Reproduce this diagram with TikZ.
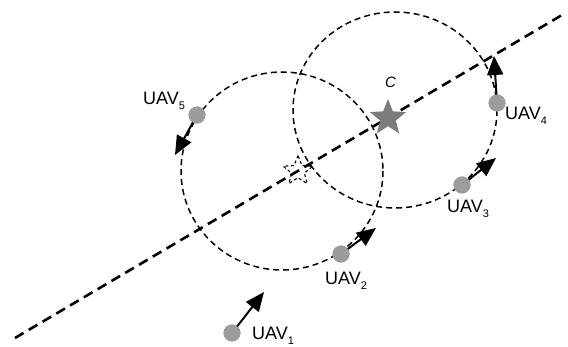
\documentclass[tikz,border=0pt]{standalone}
\usepackage{fontspec}
\setmainfont{Liberation Sans}
\usetikzlibrary{shapes.geometric,arrows.meta}
\definecolor{dotgray}{HTML}{9C9C9C}
\definecolor{stargray}{HTML}{7C7C7C}
\newcommand{\usub}[1]{\raisebox{-4.5pt}{\fontsize{11}{11}\selectfont #1}}
\begin{document}
\begin{tikzpicture}[x=1pt,y=-1pt,
  uav/.style={circle,fill=dotgray,inner sep=0pt,minimum size=17pt},
  lbl/.style={font=\fontsize{18}{18}\selectfont,inner sep=0pt,anchor=base west},
  mv/.style={line width=2pt,-{Triangle[length=19pt,width=16pt]}},
  track/.style={line width=2.6pt,dash pattern=on 10pt off 6pt},
  orbit/.style={line width=1.5pt,dash pattern=on 6pt off 4pt}]
\useasboundingbox (0,0) rectangle (568,347);
% orbits and track
\draw[orbit] (282,171) ellipse [x radius=101, y radius=99];
\draw[orbit] (395,110) ellipse [x radius=102, y radius=98];
\coordinate (la) at (15,338);
\coordinate (lb) at (562,15);
\draw[track] (la) -- (lb);
% ghost star
\node[star,star points=5,star point ratio=2.3,draw,line width=1.1pt,dash pattern=on 3pt off 2.5pt,minimum size=31pt,inner sep=0pt] (gs) at (298,171) {};
% target star
\node[star,star points=5,star point ratio=2.3,fill=stargray,minimum size=38pt,inner sep=0pt] (c) at (388,118) {};
\node[lbl,font=\fontsize{15}{15}\selectfont\itshape] (cl) at (385,88) {C};
% UAVs
\node[uav] (u1) at (232,333) {};
\node[uav] (u2) at (341,254) {};
\node[uav] (u3) at (462,185) {};
\node[uav] (u4) at (497,103) {};
\node[uav] (u5) at (197,115) {};
\coordinate (t1) at (264,292);
\coordinate (t2) at (376,228);
\coordinate (t3) at (496,158);
\coordinate (t4) at (494,56);
\coordinate (t5) at (175,155);
\draw[mv] (u1.center) -- (t1);
\draw[mv] (u2.center) -- (t2);
\draw[mv] (u3.center) -- (t3);
\draw[mv] (u4.center) -- (t4);
\draw[mv] (u5.center) -- (t5);
\node[uav] at (u1) {};
\node[uav] at (u2) {};
\node[uav] at (u3) {};
\node[uav] at (u4) {};
\node[uav] at (u5) {};
% labels
\node[lbl] (l1) at (252,340) {UAV\usub{1}};
\node[lbl] (l2) at (325,285) {UAV\usub{2}};
\node[lbl] (l3) at (447,213) {UAV\usub{3}};
\node[lbl] (l4) at (505,120) {UAV\usub{4}};
\node[lbl] (l5) at (143,105) {UAV\usub{5}};
\end{tikzpicture}
\end{document}
